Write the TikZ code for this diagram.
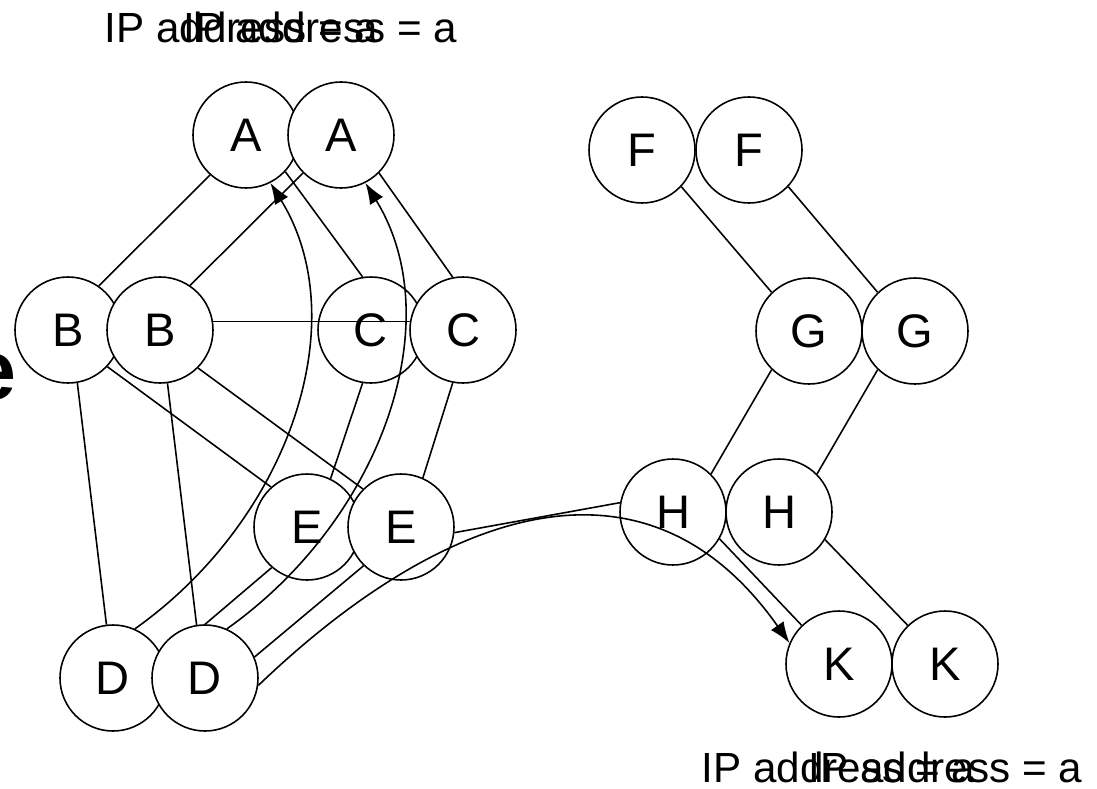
\documentclass[tikz,border=0pt]{standalone}
\usepackage{fontspec}
\setmainfont{Liberation Sans}
\usetikzlibrary{arrows.meta}

\begin{document}
\begin{tikzpicture}[line width=0.45pt,
    peer/.style={circle, draw, fill=white, minimum size=1.06cm, inner sep=0pt, font=\fontsize{13.4}{15}\selectfont},
    addr/.style={anchor=base west, inner sep=0pt, font=\fontsize{12}{14}\selectfont},
    hop/.style={-{Latex[length=6pt,width=4.4pt]}}]
\useasboundingbox (0,0) rectangle (10.97,-7.88);
\clip (0,0) rectangle (10.97,-7.88);

\node[anchor=base east, inner sep=0pt, font=\bfseries\fontsize{24}{28}\selectfont] (cut) at (0.175,-3.99) {e};

\node[addr] (ipA) at (1.04,-0.42) {IP address = a};
\node[addr] (ipA2) at (1.83,-0.42) {IP address = a};
\node[addr] (ipK) at (7.01,-7.82) {IP address = a};
\node[addr] (ipK2) at (8.08,-7.82) {IP address = a};

% first copy
\node[peer] (A1) at (2.46,-1.35) {A};
\node[peer] (B1) at (0.68,-3.30) {B};
\node[peer] (C1) at (3.71,-3.30) {C};
\node[peer] (D1) at (1.13,-6.78) {D};
\node[peer] (E1) at (3.07,-5.27) {E};
\node[peer] (F1) at (6.42,-1.50) {F};
\node[peer] (G1) at (8.09,-3.31) {G};
\node[peer] (H1) at (6.73,-5.12) {H};
\node[peer] (K1) at (8.39,-6.64) {K};

\draw (A1.228) -- (B1.55);
\draw (A1.-43) -- (C1.99);
\draw (B1.9) -- (C1.171);
\draw (B1.-80) -- (D1.97);
\draw (B1.-43) -- (E1.132);
\draw (C1.-99) -- (E1.64);
\draw (E1.229) -- (D1.20);
\draw[hop] (D1.66) .. controls +(1.55,1.10) and +(0.85,-1.38) .. (A1.-63);
\draw (F1.-43) -- (G1.134);
\draw (G1.226) -- (H1.45);
\draw (H1.-30) -- (K1.134);

% second copy
\node[peer] (A2) at (3.41,-1.35) {A};
\node[peer] (B2) at (1.60,-3.30) {B};
\node[peer] (C2) at (4.63,-3.30) {C};
\node[peer] (D2) at (2.05,-6.78) {D};
\node[peer] (E2) at (4.01,-5.27) {E};
\node[peer] (F2) at (7.49,-1.50) {F};
\node[peer] (G2) at (9.15,-3.31) {G};
\node[peer] (H2) at (7.79,-5.12) {H};
\node[peer] (K2) at (9.45,-6.64) {K};

\draw (A2.225) -- (B2.56);
\draw (A2.-45) -- (C2.101);
\draw (B2.9) -- (C2.171);
\draw (B2.-82) -- (D2.99);
\draw (B2.-45) -- (E2.135);
\draw (C2.-101) -- (E2.66);
\draw (E2.226) -- (D2.23);
\draw[hop] (D2.66) .. controls +(1.55,1.10) and +(0.85,-1.38) .. (A2.-63);
\draw (E2.-6) -- (H1.170);
\draw[hop] (D2.-8) .. controls +(1.72,1.65) and +(-1.50,2.13) .. (K1.157);
\draw (F2.-43) -- (G2.134);
\draw (G2.226) -- (H2.45);
\draw (H2.-31) -- (K2.134);
\end{tikzpicture}
\end{document}
